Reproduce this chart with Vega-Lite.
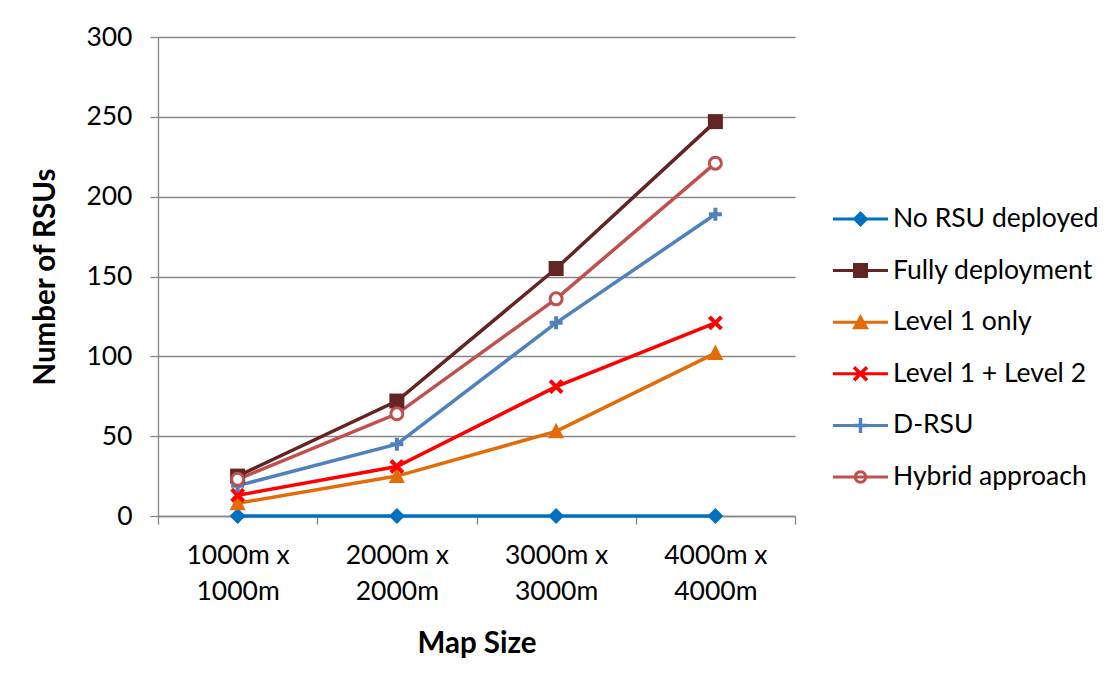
{
  "$schema": "https://vega.github.io/schema/vega-lite/v6.json",
  "width": 637,
  "height": 479,
  "autosize": {"type": "none"},
  "padding": {"left": 158, "top": 37, "right": 325, "bottom": 167},
  "background": "white",
  "config": {"view": {"stroke": null}, "font": "Lato"},
  "data": {
    "values": [
      {"size": "1000m x 1000m", "series": "No RSU deployed", "value": 0},
      {"size": "2000m x 2000m", "series": "No RSU deployed", "value": 0},
      {"size": "3000m x 3000m", "series": "No RSU deployed", "value": 0},
      {"size": "4000m x 4000m", "series": "No RSU deployed", "value": 0},
      {"size": "1000m x 1000m", "series": "Fully deployment", "value": 25},
      {"size": "2000m x 2000m", "series": "Fully deployment", "value": 72},
      {"size": "3000m x 3000m", "series": "Fully deployment", "value": 155},
      {"size": "4000m x 4000m", "series": "Fully deployment", "value": 247},
      {"size": "1000m x 1000m", "series": "Level 1 only", "value": 8},
      {"size": "2000m x 2000m", "series": "Level 1 only", "value": 25},
      {"size": "3000m x 3000m", "series": "Level 1 only", "value": 53},
      {"size": "4000m x 4000m", "series": "Level 1 only", "value": 102},
      {"size": "1000m x 1000m", "series": "Level 1 + Level 2", "value": 13},
      {"size": "2000m x 2000m", "series": "Level 1 + Level 2", "value": 31},
      {"size": "3000m x 3000m", "series": "Level 1 + Level 2", "value": 81},
      {"size": "4000m x 4000m", "series": "Level 1 + Level 2", "value": 121},
      {"size": "1000m x 1000m", "series": "D-RSU", "value": 19},
      {"size": "2000m x 2000m", "series": "D-RSU", "value": 45},
      {"size": "3000m x 3000m", "series": "D-RSU", "value": 121},
      {"size": "4000m x 4000m", "series": "D-RSU", "value": 189},
      {"size": "1000m x 1000m", "series": "Hybrid approach", "value": 23},
      {"size": "2000m x 2000m", "series": "Hybrid approach", "value": 64},
      {"size": "3000m x 3000m", "series": "Hybrid approach", "value": 136},
      {"size": "4000m x 4000m", "series": "Hybrid approach", "value": 221}
    ]
  },
  "encoding": {
    "x": {
      "field": "size",
      "type": "nominal",
      "sort": ["1000m x 1000m", "2000m x 2000m", "3000m x 3000m", "4000m x 4000m"],
      "scale": {"paddingInner": 0, "paddingOuter": 0},
      "axis": {
        "title": "Map Size",
        "titleFont": "Lato",
        "titleFontSize": 29.5,
        "titleFontWeight": "bold",
        "titleColor": "black",
        "titleBaseline": "middle",
        "titleY": 127,
        "labelAngle": 0,
        "labelFont": "Lato",
        "labelFontSize": 26.5,
        "labelColor": "black",
        "labelBaseline": "top",
        "labelPadding": 18,
        "labelLineHeight": 36,
        "labelExpr": "[slice(datum.label,0,7), slice(datum.label,8)]",
        "tickBand": "extent",
        "tickSize": 8,
        "tickColor": "#868686",
        "tickWidth": 1.3,
        "domainColor": "#868686",
        "domainWidth": 1.3,
        "grid": false
      }
    },
    "y": {
      "field": "value",
      "type": "quantitative",
      "scale": {"domain": [0, 300]},
      "axis": {
        "title": "Number of RSUs",
        "titleFont": "Lato",
        "titleFontSize": 29.5,
        "titleFontWeight": "bold",
        "titleColor": "black",
        "titleBaseline": "middle",
        "titleX": -113,
        "values": [0, 50, 100, 150, 200, 250, 300],
        "labelFont": "Lato",
        "labelFontSize": 26.5,
        "labelColor": "black",
        "labelPadding": 18,
        "tickSize": 8,
        "tickColor": "#868686",
        "tickWidth": 1.3,
        "domainColor": "#868686",
        "domainWidth": 1.3,
        "grid": true,
        "gridColor": "#868686",
        "gridWidth": 1.3
      }
    }
  },
  "layer": [
    {
      "mark": {"type": "line", "strokeWidth": 3.5},
      "encoding": {
        "color": {
          "field": "series",
          "type": "nominal",
          "scale": {
            "domain": ["No RSU deployed", "Fully deployment", "Level 1 only", "Level 1 + Level 2", "D-RSU", "Hybrid approach"],
            "range": ["#0070C0", "#632523", "#E36C09", "#FF0000", "#4F81BD", "#C0504D"]
          },
          "legend": null
        }
      }
    },
    {
      "transform": [{"filter": "datum.series !== 'Hybrid approach'"}],
      "mark": {"type": "point", "filled": true, "opacity": 1, "size": 400},
      "encoding": {
        "color": {
          "field": "series",
          "type": "nominal",
          "scale": {
            "domain": ["No RSU deployed", "Fully deployment", "Level 1 only", "Level 1 + Level 2", "D-RSU"],
            "range": ["#0070C0", "#632523", "#E36C09", "#FF0000", "#4F81BD"]
          },
          "legend": null
        },
        "shape": {
          "field": "series",
          "type": "nominal",
          "scale": {
            "domain": ["No RSU deployed", "Fully deployment", "Level 1 only", "Level 1 + Level 2", "D-RSU"],
            "range": [
              "M0,-0.8L0.8,0L0,0.8L-0.8,0Z",
              "M-0.75,-0.75L0.75,-0.75L0.75,0.75L-0.75,0.75Z",
              "M0,-0.87L0.8,0.69L-0.8,0.69Z",
              "M-0.741,-0.459L-0.459,-0.741L0.741,0.459L0.459,0.741Z M0.459,-0.741L0.741,-0.459L-0.459,0.741L-0.741,0.459Z",
              "M-0.65,-0.2L0.65,-0.2L0.65,0.2L-0.65,0.2Z M-0.2,-0.65L0.2,-0.65L0.2,0.65L-0.2,0.65Z"
            ]
          },
          "legend": null
        }
      }
    },
    {
      "transform": [{"filter": "datum.series === 'Hybrid approach'"}],
      "mark": {"type": "point", "shape": "circle", "filled": false, "fill": "white", "stroke": "#C0504D", "strokeWidth": 3, "opacity": 1, "fillOpacity": 1, "size": 144},
      "encoding": {}
    },
    {
      "mark": {"type": "point", "filled": true, "opacity": 0},
      "encoding": {
        "color": {
          "field": "series",
          "type": "nominal",
          "scale": {
            "domain": ["No RSU deployed", "Fully deployment", "Level 1 only", "Level 1 + Level 2", "D-RSU", "Hybrid approach"],
            "range": ["#0070C0", "#632523", "#E36C09", "#FF0000", "#4F81BD", "#C0504D"]
          },
          "legend": {
            "title": null,
            "orient": "none",
            "legendX": 677.5,
            "legendY": 157,
            "padding": 0,
            "symbolSize": 2500,
            "symbolOpacity": 1,
            "symbolStrokeWidth": 0,
            "labelFont": "Lato",
            "labelFontSize": 26.5,
            "labelColor": "black",
            "labelOffset": 7.5,
            "labelLimit": 400,
            "rowPadding": 12.6
          }
        },
        "shape": {
          "field": "series",
          "type": "nominal",
          "scale": {
            "domain": ["No RSU deployed", "Fully deployment", "Level 1 only", "Level 1 + Level 2", "D-RSU", "Hybrid approach"],
            "range": [
              "M-1.1,-0.06L1.1,-0.06L1.1,0.06L-1.1,0.06Z M0,-0.32L0.32,0L0,0.32L-0.32,0Z",
              "M-1.1,-0.06L1.1,-0.06L1.1,0.06L-1.1,0.06Z M-0.3,-0.3L0.3,-0.3L0.3,0.3L-0.3,0.3Z",
              "M-1.1,-0.06L1.1,-0.06L1.1,0.06L-1.1,0.06Z M0,-0.33L0.34,0.28L-0.34,0.28Z",
              "M-1.1,-0.06L1.1,-0.06L1.1,0.06L-1.1,0.06Z M-0.31,-0.21L-0.21,-0.31L0.31,0.21L0.21,0.31Z M0.21,-0.31L0.31,-0.21L-0.21,0.31L-0.31,0.21Z",
              "M-1.1,-0.06L1.1,-0.06L1.1,0.06L-1.1,0.06Z M-0.26,-0.07L0.26,-0.07L0.26,0.07L-0.26,0.07Z M-0.07,-0.3L0.07,-0.3L0.07,0.3L-0.07,0.3Z",
              "M-1.1,-0.06L1.1,-0.06L1.1,0.06L-1.1,0.06Z M0.27,0A0.27,0.27 0 1,1 -0.27,0A0.27,0.27 0 1,1 0.27,0Z M0.15,0A0.15,0.15 0 1,0 -0.15,0A0.15,0.15 0 1,0 0.15,0Z"
            ]
          },
          "legend": {
            "title": null,
            "orient": "none",
            "legendX": 677.5,
            "legendY": 157,
            "padding": 0,
            "symbolSize": 2500,
            "symbolOpacity": 1,
            "symbolStrokeWidth": 0,
            "labelFont": "Lato",
            "labelFontSize": 26.5,
            "labelColor": "black",
            "labelOffset": 7.5,
            "labelLimit": 400,
            "rowPadding": 12.6
          }
        }
      }
    }
  ],
  "resolve": {
    "scale": {"color": "independent", "shape": "independent"},
    "legend": {"color": "independent", "shape": "independent"}
  }
}
